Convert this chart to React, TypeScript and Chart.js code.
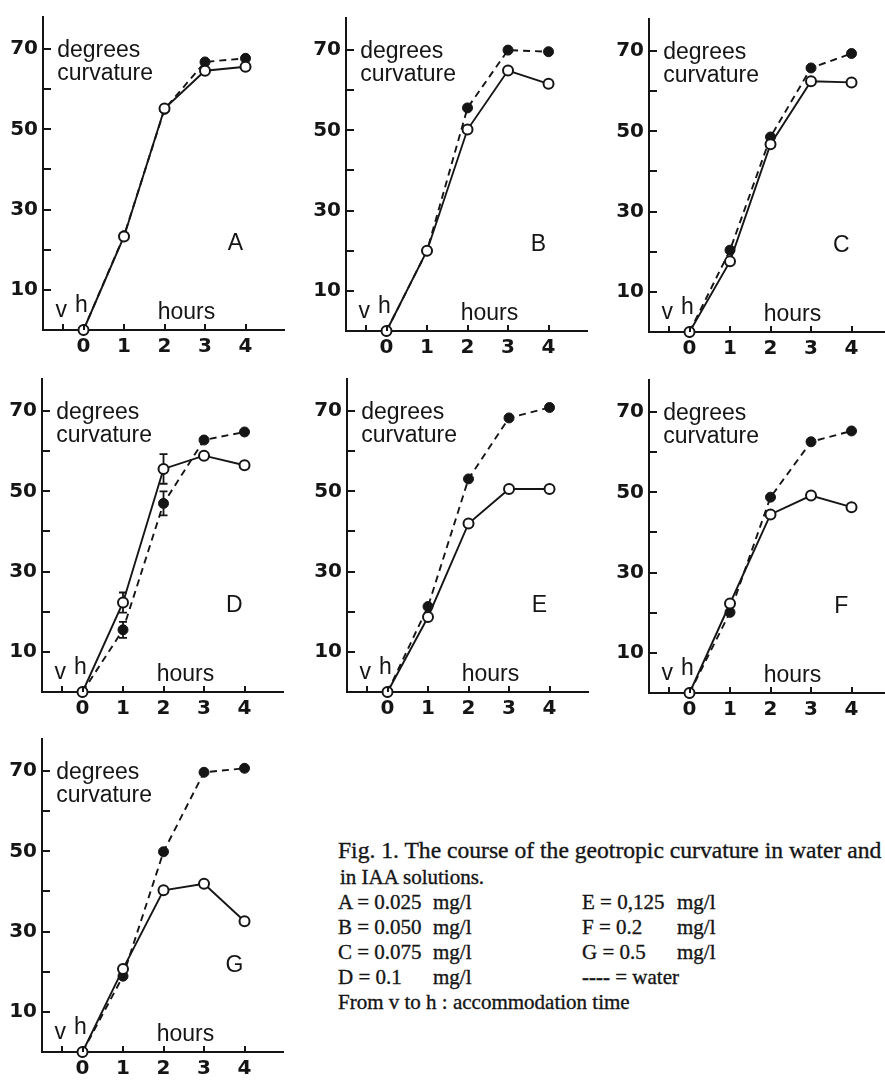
import React, { useEffect, useRef } from 'react';
import { Chart, registerables } from 'chart.js';

Chart.register(...registerables);

// ---------- data ----------
const hours = [0, 1, 2, 3, 4];
const xTickLabels = [0, 1, 2, 3, 4];
const xTickMarks = [-0.5, 0, 1, 2, 3, 4];
const yTickLabels = [10, 30, 50, 70];
const yTickMarks = [10, 20, 30, 40, 50, 60, 70];

const panelLetters = ['A', 'B', 'C', 'D', 'E', 'F', 'G'];
const concentrations = ['0.025', '0.050', '0.075', '0.1', '0,125', '0.2', '0.5'];

// IAA solutions (solid line, open circles)
const iaaA = [0, 23.3, 55.2, 64.6, 65.6];
const iaaB = [0, 20.0, 50.2, 64.9, 61.6];
const iaaC = [0, 17.6, 46.8, 62.5, 62.2];
const iaaD = [0, 22.3, 55.6, 58.9, 56.5];
const iaaE = [0, 18.7, 42.0, 50.6, 50.6];
const iaaF = [0, 22.3, 44.5, 49.2, 46.3];
const iaaG = [0, 20.7, 40.3, 41.9, 32.6];

// water (dashed line, filled circles)
const waterA = [0, 23.5, 55.0, 66.8, 67.7];
const waterB = [0, 20.0, 55.6, 70.0, 69.6];
const waterC = [0, 20.4, 48.6, 65.8, 69.4];
const waterD = [0, 15.5, 47.0, 62.8, 64.8];
const waterE = [0, 21.3, 53.1, 68.3, 70.9];
const waterF = [0, 20.1, 48.8, 62.6, 65.3];
const waterG = [0, 18.9, 49.9, 69.7, 70.7];

// error bars (panel D only)
const iaaDErr = [0, 2.5, 3.7, 0, 0];
const waterDErr = [0, 2.0, 3.0, 0, 0];
const noErr = [0, 0, 0, 0, 0];

const iaaSeries = [iaaA, iaaB, iaaC, iaaD, iaaE, iaaF, iaaG];
const waterSeries = [waterA, waterB, waterC, waterD, waterE, waterF, waterG];
const iaaErrors = [noErr, noErr, noErr, iaaDErr, noErr, noErr, noErr];
const waterErrors = [noErr, noErr, noErr, waterDErr, noErr, noErr, noErr];

// ---------- layout ----------
const INK = '#151515';
const AXIS_W = 42;
const PAD_TOP = 4;
const PLOT_H = 316;
const PLOT_W = 241;
const XAXIS_H = 26;
const CANVAS_W = 291;
const CANVAS_H = PAD_TOP + PLOT_H + XAXIS_H;
// pixel position of each panel's origin corner (y-axis x, x-axis y)
const panelOrigins = [
  { ax: 43, ay: 330 },
  { ax: 346, ay: 331 },
  { ax: 649, ay: 332 },
  { ax: 42, ay: 692 },
  { ax: 347, ay: 692 },
  { ax: 649, ay: 693 },
  { ax: 42, ay: 1052 },
];

const SANS = '"Liberation Sans", Arial, Helvetica, sans-serif';
const TICK_FONT = { family: '"DejaVu Sans", sans-serif', size: 20, weight: 'bold' as const };

function makeDecor(letter: string, iaa: number[], water: number[], iaaErr: number[], waterErr: number[]) {
  return {
    id: 'decor' + letter,
    beforeDatasetsDraw(chart: any) {
      const { ctx, scales } = chart;
      const x = scales.x;
      const y = scales.y;
      ctx.save();
      ctx.strokeStyle = INK;
      ctx.lineWidth = 1.8;
      const draw = (vals: number[], errs: number[]) => {
        vals.forEach((v, i) => {
          const e = errs[i];
          if (!e) return;
          const px = x.getPixelForValue(hours[i]);
          const top = y.getPixelForValue(v + e);
          const bot = y.getPixelForValue(v - e);
          ctx.beginPath();
          ctx.moveTo(px, top);
          ctx.lineTo(px, bot);
          ctx.moveTo(px - 4, top);
          ctx.lineTo(px + 4, top);
          ctx.moveTo(px - 4, bot);
          ctx.lineTo(px + 4, bot);
          ctx.stroke();
        });
      };
      draw(iaa, iaaErr);
      draw(water, waterErr);
      ctx.restore();
    },
    afterDraw(chart: any) {
      const { ctx, scales, chartArea } = chart;
      const x = scales.x;
      const y = scales.y;
      ctx.save();
      ctx.strokeStyle = INK;
      ctx.lineWidth = 2;
      ctx.beginPath();
      yTickMarks.forEach((v) => {
        const py = Math.round(y.getPixelForValue(v));
        ctx.moveTo(chartArea.left, py);
        ctx.lineTo(chartArea.left + 8, py);
      });
      xTickMarks.forEach((v) => {
        const px = Math.round(x.getPixelForValue(v));
        ctx.moveTo(px, chartArea.bottom);
        ctx.lineTo(px, chartArea.bottom - 6);
      });
      ctx.stroke();

      ctx.fillStyle = INK;
      ctx.font = `23px ${SANS}`;
      ctx.textBaseline = 'alphabetic';
      ctx.textAlign = 'left';
      ctx.fillText('degrees', x.getPixelForValue(-0.65), y.getPixelForValue(68));
      ctx.fillText('curvature', x.getPixelForValue(-0.65), y.getPixelForValue(62.4));
      ctx.fillText('hours', x.getPixelForValue(1.83), y.getPixelForValue(2.7));
      ctx.textAlign = 'center';
      ctx.fillText('v', x.getPixelForValue(-0.55), y.getPixelForValue(3.3));
      ctx.fillText('h', x.getPixelForValue(-0.05), y.getPixelForValue(4.4));
      ctx.textBaseline = 'middle';
      ctx.fillText(letter, x.getPixelForValue(3.75), y.getPixelForValue(21.5));
      ctx.restore();
    },
  };
}

function Panel({ index }: { index: number }) {
  const ref = useRef<HTMLCanvasElement>(null);
  const letter = panelLetters[index];
  const iaa = iaaSeries[index];
  const water = waterSeries[index];
  const { ax, ay } = panelOrigins[index];
  const left = ax - AXIS_W;
  const top = ay - (PAD_TOP + PLOT_H);

  useEffect(() => {
    if (!ref.current) return;
    const chart = new Chart(ref.current, {
      type: 'line',
      data: {
        datasets: [
          {
            label: 'IAA',
            data: hours.map((h, i) => ({ x: h, y: iaa[i] })),
            borderColor: INK,
            borderWidth: 1.9,
            pointRadius: 5,
            pointBackgroundColor: '#ffffff',
            pointBorderColor: INK,
            pointBorderWidth: 2,
            tension: 0,
            clip: false as any,
          },
          {
            label: 'water',
            data: hours.map((h, i) => ({ x: h, y: water[i] })),
            borderColor: INK,
            borderWidth: 1.9,
            borderDash: [7, 5],
            pointRadius: 5,
            pointBackgroundColor: INK,
            pointBorderColor: INK,
            pointBorderWidth: 1,
            tension: 0,
            clip: false as any,
          },
        ],
      },
      options: {
        responsive: false,
        animation: false,
        events: [],
        layout: { padding: { top: PAD_TOP, right: CANVAS_W - AXIS_W - PLOT_W, left: 0, bottom: 0 } },
        plugins: { legend: { display: false }, tooltip: { enabled: false } },
        scales: {
          x: {
            type: 'linear',
            min: -1,
            max: 4.95,
            grid: { display: false, drawTicks: false },
            border: { display: true, color: INK, width: 2 },
            ticks: { color: INK, font: TICK_FONT, padding: 5, autoSkip: false, maxRotation: 0 },
            afterBuildTicks: (s: any) => {
              s.ticks = xTickLabels.map((v) => ({ value: v }));
            },
            afterFit: (s: any) => {
              s.height = XAXIS_H;
              s.paddingLeft = 0;
              s.paddingRight = 0;
            },
          },
          y: {
            type: 'linear',
            min: 0,
            max: 78,
            grid: { display: false, drawTicks: false },
            border: { display: true, color: INK, width: 2 },
            ticks: { color: INK, font: TICK_FONT, padding: 5, autoSkip: false },
            afterBuildTicks: (s: any) => {
              s.ticks = yTickLabels.map((v) => ({ value: v }));
            },
            afterFit: (s: any) => {
              s.width = AXIS_W;
              s.paddingTop = 0;
              s.paddingBottom = 0;
            },
          },
        },
      },
      plugins: [makeDecor(letter, iaa, water, iaaErrors[index], waterErrors[index])],
    } as any);
    return () => chart.destroy();
  }, [index]);

  return (
    <canvas
      ref={ref}
      width={CANVAS_W}
      height={CANVAS_H}
      style={{ position: 'absolute', left, top, width: CANVAS_W, height: CANVAS_H }}
    />
  );
}

const SERIF = '"Liberation Serif", "Times New Roman", serif';

function Caption() {
  const base: React.CSSProperties = {
    position: 'absolute',
    fontFamily: SERIF,
    fontSize: 21,
    lineHeight: '25px',
    color: INK,
    whiteSpace: 'nowrap',
    WebkitTextStroke: '0.35px ' + INK,
  } as any;
  const rowTop = (r: number) => 840 + r * 25;
  const leftRows = [0, 1, 2, 3];
  const rightRows = [4, 5, 6];
  return (
    <>
      <div style={{ ...base, left: 338, top: rowTop(0) - 2, fontSize: 23.6 }}>
        Fig. 1. The course of the geotropic curvature in water and
      </div>
      <div style={{ ...base, left: 340, top: rowTop(1) }}>in IAA solutions.</div>
      {leftRows.map((i, r) => (
        <React.Fragment key={'l' + i}>
          <div style={{ ...base, left: 338, top: rowTop(2 + r) }}>
            {panelLetters[i]} = {concentrations[i]}
          </div>
          <div style={{ ...base, left: 433, top: rowTop(2 + r) }}>mg/l</div>
        </React.Fragment>
      ))}
      {rightRows.map((i, r) => (
        <React.Fragment key={'r' + i}>
          <div style={{ ...base, left: 582, top: rowTop(2 + r) }}>
            {panelLetters[i]} = {concentrations[i]}
          </div>
          <div style={{ ...base, left: 677, top: rowTop(2 + r) }}>mg/l</div>
        </React.Fragment>
      ))}
      <div style={{ ...base, left: 582, top: rowTop(5) }}>
        <span style={{ fontWeight: 'bold' }}>----</span> = water
      </div>
      <div style={{ ...base, left: 338, top: rowTop(6) }}>From v to h : accommodation time</div>
    </>
  );
}

export default function App() {
  return (
    <div
      style={{
        position: 'absolute',
        left: 0,
        top: 0,
        width: 885,
        height: 1081,
        overflow: 'hidden',
        background: '#ffffff',
      }}
    >
      {panelLetters.map((_, i) => (
        <Panel key={i} index={i} />
      ))}
      <Caption />
    </div>
  );
}
